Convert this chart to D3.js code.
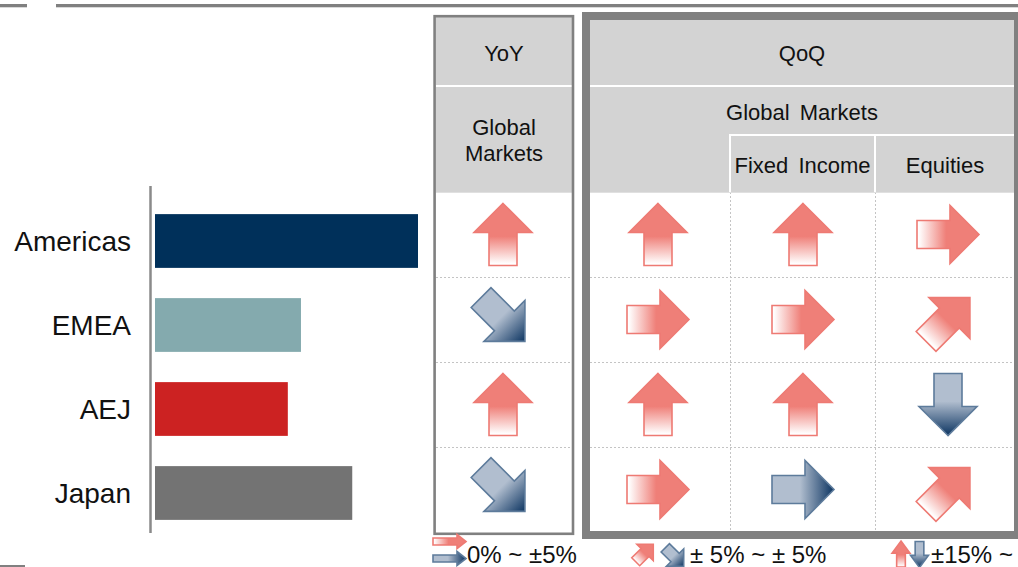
<!DOCTYPE html>
<html>
<head>
<meta charset="utf-8">
<script src="https://cdn.jsdelivr.net/npm/d3@7"></script>
<style>
  html, body { margin: 0; padding: 0; background: #ffffff; }
  svg { display: block; font-family: "Liberation Sans", Arial, sans-serif; }
</style>
</head>
<body>
<script>
// ---------------- DATA ----------------
const regions = ["Americas", "EMEA", "AEJ", "Japan"];
const revenueIndex = [100, 55.5, 50.5, 75];          // relative bar lengths (Americas = 100)
const barColors = ["#00305A", "#84AAAE", "#CC2222", "#737373"];

// arrow codes: "up" (+15%~), "upRight" (+5~15%), "rightUp" (0~+5%),
//              "rightDown" (0~-5%), "downRight" (-5~-15%), "down" (-15%~)
const yoyGlobalMarkets = ["up", "downRight", "up", "downRight"];
const qoqGlobalMarkets = ["up", "rightUp", "up", "rightUp"];
const qoqFixedIncome   = ["up", "rightUp", "up", "rightDown"];
const qoqEquities      = ["rightUp", "upRight", "down", "upRight"];

const headerTop = ["YoY", "QoQ"];
const headerMid = ["Global Markets", "Global Markets"];
const headerSub = ["Fixed Income", "Equities"];
const legendLabels = ["0% ~ \u00B15%", "\u00B1 5% ~ \u00B1 5%", "\u00B115% ~"];

// ---------------- SETUP ----------------
const W = 1018, H = 567;
const svg = d3.select("body").append("svg").attr("width", W).attr("height", H);
const gray = "#808080", hdrFill = "#D3D3D3";
const pink = "#EF7F78", pinkStroke = "#EE7A73";
const blueLight = "#B1BECF", blueDark = "#0C3461", blueStroke = "#5D7B9B";

const defs = svg.append("defs");
const pg = defs.append("linearGradient").attr("id", "gPink")
  .attr("x1", 0).attr("y1", 1).attr("x2", 0).attr("y2", 0);
pg.append("stop").attr("offset", 0.03).attr("stop-color", "#ffffff");
pg.append("stop").attr("offset", 0.47).attr("stop-color", pink);
pg.append("stop").attr("offset", 1).attr("stop-color", pink);
const bg = defs.append("linearGradient").attr("id", "gBlue")
  .attr("x1", 0).attr("y1", 1).attr("x2", 0).attr("y2", 0);
bg.append("stop").attr("offset", 0).attr("stop-color", blueLight);
bg.append("stop").attr("offset", 0.45).attr("stop-color", blueLight);
bg.append("stop").attr("offset", 1).attr("stop-color", blueDark);

const arrowSpec = {
  up:        { angle: 0,   tone: "pink" },
  upRight:   { angle: 45,  tone: "pink" },
  rightUp:   { angle: 90,  tone: "pink" },
  rightDown: { angle: 90,  tone: "blue" },
  downRight: { angle: 135, tone: "blue" },
  down:      { angle: 180, tone: "blue" }
};

function arrowPoints(len, headW, headLen, shaftW) {
  const t = -len / 2, hb = -len / 2 + headLen, b = len / 2;
  return [[0, t], [headW / 2, hb], [shaftW / 2, hb], [shaftW / 2, b],
          [-shaftW / 2, b], [-shaftW / 2, hb], [-headW / 2, hb]];
}
const line = d3.line();
function drawArrow(g, cx, cy, code, shape, sx, sy) {
  const s = arrowSpec[code];
  const grp = g.append("g")
    .attr("transform", `translate(${cx},${cy}) rotate(${s.angle}) scale(${sx || 1},${sy || sx || 1})`);
  grp.append("path")
    .attr("d", line(shape) + "Z")
    .attr("fill", s.tone === "pink" ? "url(#gPink)" : "url(#gBlue)")
    .attr("stroke", s.tone === "pink" ? pinkStroke : blueStroke)
    .attr("stroke-width", 1.6)
    .attr("vector-effect", "non-scaling-stroke")
    .attr("stroke-linejoin", "miter");
}
const mainShape = arrowPoints(62, 58, 29, 28);
const legendRightShape = arrowPoints(33, 14, 9, 7);

// ---------------- TOP / CORNER RULES ----------------
svg.append("rect").attr("x", 0).attr("y", 4).attr("width", 27).attr("height", 3.3).attr("fill", gray);
svg.append("rect").attr("x", 56).attr("y", 4).attr("width", W - 56).attr("height", 3.3).attr("fill", gray);
svg.append("rect").attr("x", 0).attr("y", 565).attr("width", 25).attr("height", 2).attr("fill", gray);

// ---------------- BAR CHART ----------------
const x = d3.scaleLinear().domain([0, 100]).range([155, 418]);
const y = d3.scaleBand().domain(regions).range([199, 535]).paddingInner(0.36).paddingOuter(0.18);

svg.append("g").selectAll("rect").data(regions).join("rect")
  .attr("x", x(0))
  .attr("y", d => y(d))
  .attr("width", (d, i) => x(revenueIndex[i]) - x(0))
  .attr("height", y.bandwidth())
  .attr("fill", (d, i) => barColors[i]);

svg.append("line").attr("x1", 150.5).attr("x2", 150.5).attr("y1", 186).attr("y2", 533)
  .attr("stroke", "#8a8a8a").attr("stroke-width", 2.5);

svg.append("g").selectAll("text").data(regions).join("text")
  .attr("x", 131)
  .attr("y", d => y(d) + y.bandwidth() / 2 + 10)
  .attr("text-anchor", "end")
  .attr("font-size", 28)
  .attr("fill", "#111")
  .text(d => d);

// ---------------- TABLE ----------------
const rowTop = 192, rowH = 85;
const rowCenter = i => rowTop + rowH * i + rowH / 2;
const colCenters = [503, 658, 803, 948];
const columns = [yoyGlobalMarkets, qoqGlobalMarkets, qoqFixedIncome, qoqEquities];

// header fills
svg.append("rect").attr("x", 436).attr("y", 17).attr("width", 136).attr("height", 68).attr("fill", hdrFill);
svg.append("rect").attr("x", 436).attr("y", 87).attr("width", 136).attr("height", 105).attr("fill", hdrFill);
svg.append("rect").attr("x", 590).attr("y", 20).attr("width", 424).attr("height", 65).attr("fill", hdrFill);
svg.append("rect").attr("x", 590).attr("y", 87).attr("width", 424).attr("height", 105).attr("fill", hdrFill);
// white sub-header separators
svg.append("rect").attr("x", 729).attr("y", 134).attr("width", 285).attr("height", 2).attr("fill", "#fff");
svg.append("rect").attr("x", 729).attr("y", 134).attr("width", 2).attr("height", 58).attr("fill", "#fff");
svg.append("rect").attr("x", 874).attr("y", 134).attr("width", 2).attr("height", 58).attr("fill", "#fff");

// dashed grid in body
const grid = svg.append("g").attr("stroke", "#c4c4c4").attr("stroke-width", 1).attr("stroke-dasharray", "2,2");
[1, 2, 3].forEach(i => {
  const yy = rowTop + rowH * i + 0.5;
  grid.append("line").attr("x1", 436).attr("x2", 572).attr("y1", yy).attr("y2", yy);
  grid.append("line").attr("x1", 590).attr("x2", 1014).attr("y1", yy).attr("y2", yy);
});
[730.5, 875.5].forEach(xx => {
  grid.append("line").attr("x1", xx).attr("x2", xx).attr("y1", rowTop).attr("y2", 532);
});
svg.append("line").attr("x1", 436).attr("x2", 572).attr("y1", 192.5).attr("y2", 192.5).attr("stroke", "#e0e0e0");
svg.append("line").attr("x1", 590).attr("x2", 1014).attr("y1", 192.5).attr("y2", 192.5).attr("stroke", "#e0e0e0");

// box borders
svg.append("rect").attr("x", 434.6).attr("y", 16.2).attr("width", 138.4).attr("height", 517.6)
  .attr("fill", "none").attr("stroke", gray).attr("stroke-width", 2.6);
svg.append("rect").attr("x", 586).attr("y", 16).attr("width", 432).attr("height", 519)
  .attr("fill", "none").attr("stroke", gray).attr("stroke-width", 8);

// header text
const ht = svg.append("g").attr("font-size", 22).attr("fill", "#111").attr("text-anchor", "middle")
  .attr("word-spacing", 4);
ht.append("text").attr("x", 504).attr("y", 61).text(headerTop[0]);
ht.append("text").attr("x", 802).attr("y", 61).text(headerTop[1]);
const gmWords = headerMid[0].split(" ");
ht.append("text").attr("x", 504).attr("y", 135).attr("word-spacing", 0).text(gmWords[0]);
ht.append("text").attr("x", 504).attr("y", 161).attr("word-spacing", 0).text(gmWords[1]);
ht.append("text").attr("x", 802).attr("y", 120).text(headerMid[1]);
ht.append("text").attr("x", 802.5).attr("y", 173).text(headerSub[0]);
ht.append("text").attr("x", 945).attr("y", 173).attr("word-spacing", 0).text(headerSub[1]);

// arrows
const ag = svg.append("g");
columns.forEach((col, c) => {
  col.forEach((code, r) => drawArrow(ag, colCenters[c], rowCenter(r), code, mainShape, 1));
});

// ---------------- LEGEND ----------------
const lg = svg.append("g");
drawArrow(lg, 449.5, 541.5, "rightUp", legendRightShape, 1);
drawArrow(lg, 449.5, 558.5, "rightDown", legendRightShape, 1);
drawArrow(lg, 644.5, 553, "upRight", mainShape, 0.4);
drawArrow(lg, 674.5, 557, "downRight", mainShape, 0.42);
drawArrow(lg, 901, 554, "up", mainShape, 0.31, 0.42);
drawArrow(lg, 919.5, 554.5, "down", mainShape, 0.31, 0.42);

const lt = lg.append("g").attr("font-size", 24).attr("fill", "#111");
lt.append("text").attr("x", 467).attr("y", 563).text(legendLabels[0]);
lt.append("text").attr("x", 690).attr("y", 563).text(legendLabels[1]);
lt.append("text").attr("x", 931).attr("y", 563).text(legendLabels[2]);
</script>
</body>
</html>
